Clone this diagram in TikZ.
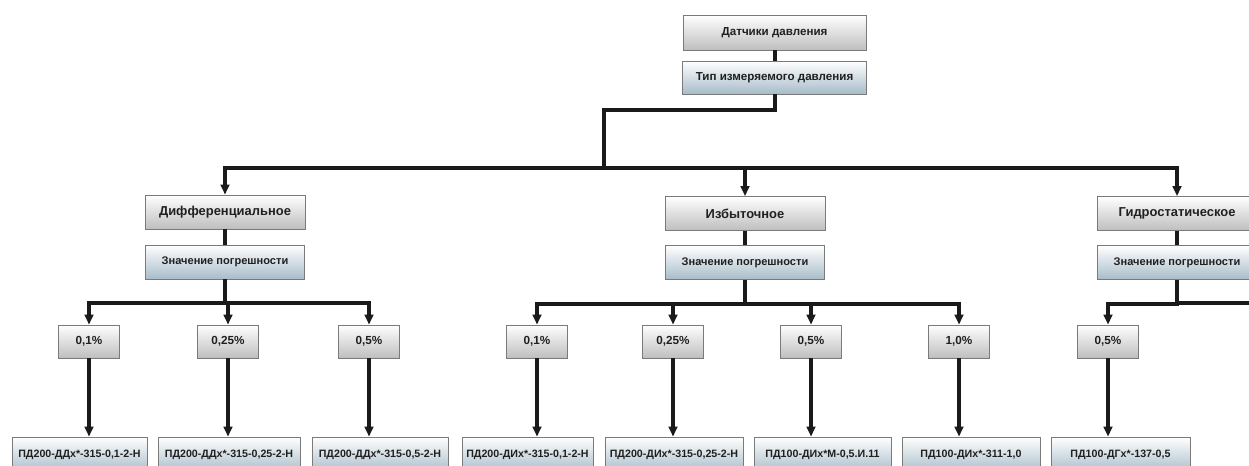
\documentclass[tikz,border=0pt]{standalone}
\usepackage{fontspec}
\setmainfont{Liberation Sans}
\usetikzlibrary{arrows.meta}
\definecolor{boxgray}{HTML}{BEBEBE}
\definecolor{boxblue}{HTML}{A7BCC9}
\definecolor{edge}{HTML}{7A7A7A}
\definecolor{linecol}{HTML}{1A1A1A}
\definecolor{txt}{HTML}{202020}
\tikzset{
  basebox/.style={draw=edge, line width=0.6pt, inner sep=0pt, text=txt, align=center},
  graybox/.style={basebox, top color=white, bottom color=boxgray},
  bluebox/.style={basebox, top color=white, bottom color=boxblue},
  wd/.style={minimum width=#1*0.75pt},
  ht/.style={minimum height=#1*0.75pt},
  fbig/.style={font=\fontsize{9.7}{11}\selectfont\bfseries},
  fmid/.style={font=\fontsize{8.7}{10}\selectfont\bfseries},
  fsub/.style={font=\fontsize{8.3}{10}\selectfont\bfseries},
  fpct/.style={font=\fontsize{8.8}{10}\selectfont\bfseries},
  fbot/.style={font=\fontsize{8}{10}\selectfont\bfseries},
  conn/.style={draw=linecol, line width=3pt},
  arr/.style={conn, -{Triangle[width=6.5pt,length=7.5pt]}},
  levone/.style={graybox, fbig, wd=160, ht=34},
  zbox/.style={bluebox, fsub, wd=159, ht=34},
  pbox/.style={graybox, fpct, wd=61, ht=33},
  bbox/.style={bluebox, fbot, ht=36}
}
\begin{document}
\begin{tikzpicture}[x=0.75pt,y=-0.75pt]
\clip (0,0) rectangle (1249,466);
\fill[white] (0,0) rectangle (1249,466);

% top
\node[graybox, fmid, wd=183, ht=35] (top) at (774.5,32.5) {Датчики давления};
\node[bluebox, fmid, wd=184, ht=33] (tip) at (774.5,77.5) {Тип измеряемого давления};
\draw[conn] (top.south) -- (tip.north);
\coordinate (jn) at (604,168);
\draw[conn] (tip.south) -- ++(0,16) -| (jn);

% level one
\node[levone] (dif) at (225,212) {Дифференциальное};
\node[levone] (izb) at (745,213.5) {Избыточное};
\node[levone] (gid) at (1177,213.5) {Гидростатическое};
\draw[arr] (jn) -| (dif.north);
\draw[arr] (jn) -| (izb.north);
\draw[arr] (jn) -| (gid.north);

% level two
\node[zbox] (z1) at (225,262) {Значение погрешности};
\node[zbox] (z2) at (745,262.5) {Значение погрешности};
\node[zbox] (z3) at (1177,262.5) {Значение погрешности};
\draw[conn] (dif.south) -- (z1.north);
\draw[conn] (izb.south) -- (z2.north);
\draw[conn] (gid.south) -- (z3.north);

% percent boxes
\node[pbox] (p1) at (89,341.5) {0,1\%};
\node[pbox] (p2) at (228,341.5) {0,25\%};
\node[pbox] (p3) at (369,341.5) {0,5\%};
\node[pbox] (p4) at (537,341.5) {0,1\%};
\node[pbox] (p5) at (673,341.5) {0,25\%};
\node[pbox] (p6) at (811,341.5) {0,5\%};
\node[pbox] (p7) at (959,341.5) {1,0\%};
\node[pbox] (p8) at (1108,341.5) {0,5\%};

\foreach \p in {p1,p2,p3} \draw[arr] (z1.south) -- ++(0,24) -| (\p.north);
\foreach \p in {p4,p5,p6,p7} \draw[arr] (z2.south) -- ++(0,24) -| (\p.north);
\draw[arr] (z3.south) -- ++(0,24) -| (p8.north);
\coordinate (zr) at (1262,303);
\draw[conn] (z3.south) |- (zr);

% bottom boxes
\node[bbox, wd=135] (b1) at (79.5,455) {ПД200-ДДх*-315-0,1-2-Н};
\node[bbox, wd=142] (b2) at (229,455) {ПД200-ДДх*-315-0,25-2-Н};
\node[bbox, wd=136] (b3) at (380,455) {ПД200-ДДх*-315-0,5-2-Н};
\node[bbox, wd=131] (b4) at (527.5,455) {ПД200-ДИх*-315-0,1-2-Н};
\node[bbox, wd=138] (b5) at (674,455) {ПД200-ДИх*-315-0,25-2-Н};
\node[bbox, wd=137] (b6) at (822.5,455) {ПД100-ДИх*М-0,5.И.11};
\node[bbox, wd=138] (b7) at (971,455) {ПД100-ДИх*-311-1,0};
\node[bbox, wd=139] (b8) at (1120.5,455) {ПД100-ДГх*-137-0,5};

\foreach \p/\b in {p1/b1,p2/b2,p3/b3,p4/b4,p5/b5,p6/b6,p7/b7,p8/b8}
  \draw[arr] (\p.south) -- (\p.south |- \b.north);
\end{tikzpicture}
\end{document}
